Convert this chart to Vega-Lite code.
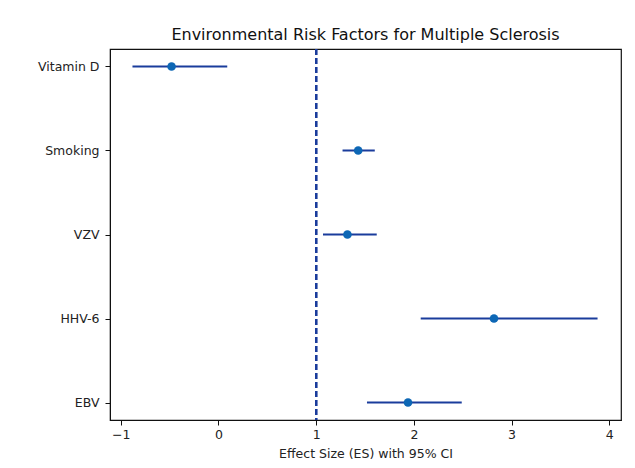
{
  "$schema": "https://vega.github.io/schema/vega-lite/v6.json",
  "width": 511,
  "height": 371,
  "autosize": {"type": "none"},
  "padding": {"left": 110, "top": 49, "right": 14, "bottom": 48},
  "background": "white",
  "title": {
    "text": "Environmental Risk Factors for Multiple Sclerosis",
    "font": "DejaVu Sans",
    "fontSize": 16,
    "fontWeight": "normal",
    "color": "#111",
    "anchor": "middle",
    "offset": 5
  },
  "config": {
    "view": {"stroke": "#111", "strokeWidth": 1.2},
    "axis": {
      "labelFont": "DejaVu Sans",
      "labelFontSize": 12.5,
      "labelColor": "#222",
      "titleFont": "DejaVu Sans",
      "titleFontSize": 12.5,
      "titleFontWeight": "normal",
      "titleColor": "#222",
      "domainColor": "#111",
      "tickColor": "#111",
      "tickSize": 5,
      "grid": false
    }
  },
  "data": {
    "values": [
      {"factor": "Vitamin D", "es": -0.48, "lo": -0.88, "hi": 0.09},
      {"factor": "Smoking", "es": 1.43, "lo": 1.27, "hi": 1.60},
      {"factor": "VZV", "es": 1.32, "lo": 1.07, "hi": 1.62},
      {"factor": "HHV-6", "es": 2.82, "lo": 2.07, "hi": 3.88},
      {"factor": "EBV", "es": 1.94, "lo": 1.52, "hi": 2.49}
    ]
  },
  "layer": [
    {
      "mark": {"type": "rule", "color": "#1a3c9c", "strokeWidth": 2, "strokeDash": [6, 3]},
      "encoding": {"x": {"datum": 1, "type": "quantitative"}}
    },
    {
      "mark": {"type": "rule", "color": "#1a3c9c", "strokeWidth": 2},
      "encoding": {
        "x": {
          "field": "lo",
          "type": "quantitative",
          "scale": {"domain": [-1.11, 4.12], "nice": false, "zero": false},
          "axis": {
            "title": "Effect Size (ES) with 95% CI",
            "values": [-1, 0, 1, 2, 3, 4],
            "format": "d",
            "labelPadding": 3,
            "titlePadding": 7
          }
        },
        "x2": {"field": "hi"},
        "y": {
          "field": "factor",
          "type": "nominal",
          "sort": ["Vitamin D", "Smoking", "VZV", "HHV-6", "EBV"],
          "scale": {"type": "point", "padding": 0.208},
          "axis": {"title": null, "labelPadding": 6}
        }
      }
    },
    {
      "mark": {"type": "point", "filled": true, "color": "#0d67b5", "opacity": 1, "size": 75},
      "encoding": {
        "x": {"field": "es", "type": "quantitative"},
        "y": {"field": "factor", "type": "nominal", "sort": ["Vitamin D", "Smoking", "VZV", "HHV-6", "EBV"]}
      }
    }
  ]
}
